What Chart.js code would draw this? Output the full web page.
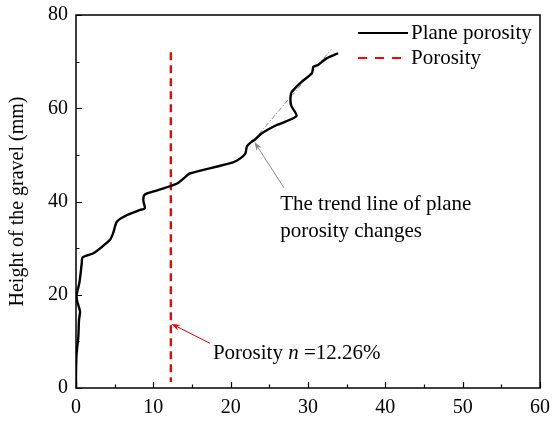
<!DOCTYPE html>
<html>
<head>
<meta charset="utf-8">
<script src="https://cdn.jsdelivr.net/npm/chart.js@4/dist/chart.umd.min.js"></script>
<style>
  html, body { margin: 0; padding: 0; background: #fff; }
  #wrap { width: 552px; height: 425px; }
</style>
</head>
<body>
<div id="wrap"><canvas id="chart" width="552" height="425"></canvas></div>
<script>
// ====== Данные ======
// плоская пористость (%) по высоте гравия (мм)
const planeX = [0, 0, 0.08, 0.3, 0.39, 0.52, 0.17, 0.08, 0.43, 0.6, 0.74, 0.86, 2.24, 3.3, 4.4, 4.8, 5.3, 6.6, 8.3, 8.9, 8.7, 8.9, 10.5, 13.0, 14.3, 14.7, 20.3, 21.2, 21.9, 22.1, 22.7, 23.15, 24.0, 25.95, 28.5, 27.8, 27.8, 28.1, 29.2, 30.5, 30.7, 31.3, 32.4, 33.9];
const planeY = [0, 3.2, 7.4, 11.0, 14.6, 16.4, 18.5, 19.9, 22.5, 24.6, 26.7, 28.0, 28.9, 30.2, 31.8, 33.2, 35.7, 37.1, 38.2, 38.5, 40.3, 41.5, 42.4, 43.8, 45.5, 46.0, 48.4, 49.2, 50.3, 51.8, 52.8, 53.3, 54.6, 56.4, 58.3, 60.7, 63.2, 63.9, 65.7, 67.5, 68.9, 69.3, 70.7, 71.8];

// средняя пористость n = 12.26%
const porosityX = [12.26, 12.26];
const porosityY = [72.0, 1.3];

// линия тренда
const trendX = [22.8, 33.0];
const trendY = [52.8, 72.6];

const xTicks = [0, 10, 20, 30, 40, 50, 60];
const yTicks = [0, 20, 40, 60, 80];

// стрелки и подписи (в координатах данных)
const grayArrowX = [26.9, 23.06];
const grayArrowY = [42.9, 52.8];
const redArrowX = [17.3, 12.3];
const redArrowY = [9.6, 13.8];
const trendLabelPos = [26.4, 39.3];
const porosityLabelPos = [17.7, 7.5];

const FONT = '"Liberation Serif", "Times New Roman", serif';

const toPts = (xs, ys) => xs.map((x, i) => ({ x, y: ys[i] }));

// ====== Рамка, внутренние тики, стрелки, подписи, легенда ======
function arrow(ctx, x1, y1, x2, y2, color){
  ctx.save();
  ctx.strokeStyle = color; ctx.fillStyle = color; ctx.lineWidth = 1;
  const a = Math.atan2(y2 - y1, x2 - x1);
  const hl = 9, hw = 3;
  ctx.beginPath(); ctx.moveTo(x1, y1);
  ctx.lineTo(x2 - Math.cos(a) * hl * 0.7, y2 - Math.sin(a) * hl * 0.7); ctx.stroke();
  ctx.beginPath();
  ctx.moveTo(x2, y2);
  ctx.lineTo(x2 - Math.cos(a) * hl - Math.sin(a) * hw, y2 - Math.sin(a) * hl + Math.cos(a) * hw);
  ctx.lineTo(x2 - Math.cos(a) * hl * 0.7, y2 - Math.sin(a) * hl * 0.7);
  ctx.lineTo(x2 - Math.cos(a) * hl + Math.sin(a) * hw, y2 - Math.sin(a) * hl - Math.cos(a) * hw);
  ctx.closePath(); ctx.fill();
  ctx.restore();
}

const decor = {
  id: 'decor',
  afterDatasetsDraw(chart){
    const { ctx, chartArea: ca, scales: { x, y } } = chart;
    ctx.save();
    // рамка
    ctx.strokeStyle = '#000'; ctx.lineWidth = 1.5;
    ctx.strokeRect(ca.left, ca.top, ca.right - ca.left, ca.bottom - ca.top);
    // тики внутрь
    ctx.lineWidth = 1.2;
    ctx.beginPath();
    for (let v = 0; v <= 60; v += 5){
      const px = Math.round(x.getPixelForValue(v)) + 0.5;
      const len = v % 10 === 0 ? 6 : 3.5;
      ctx.moveTo(px, ca.bottom); ctx.lineTo(px, ca.bottom - len);
    }
    for (let v = 0; v <= 80; v += 10){
      const py = Math.round(y.getPixelForValue(v)) + 0.5;
      const len = v % 20 === 0 ? 6 : 3.5;
      ctx.moveTo(ca.left, py); ctx.lineTo(ca.left + len, py);
    }
    ctx.stroke();

    // стрелки
    arrow(ctx, x.getPixelForValue(grayArrowX[0]), y.getPixelForValue(grayArrowY[0]),
               x.getPixelForValue(grayArrowX[1]), y.getPixelForValue(grayArrowY[1]), '#8a8a8a');
    arrow(ctx, x.getPixelForValue(redArrowX[0]), y.getPixelForValue(redArrowY[0]),
               x.getPixelForValue(redArrowX[1]), y.getPixelForValue(redArrowY[1]), '#ff0000');

    // подписи
    ctx.fillStyle = '#000'; ctx.textBaseline = 'middle'; ctx.textAlign = 'left';
    ctx.font = `21px ${FONT}`;
    let tx = x.getPixelForValue(trendLabelPos[0]), ty = y.getPixelForValue(trendLabelPos[1]);
    ctx.fillText('The trend line of plane', tx, ty);
    ctx.fillText('porosity changes', tx, ty + 27);

    tx = x.getPixelForValue(porosityLabelPos[0]); ty = y.getPixelForValue(porosityLabelPos[1]);
    const p1 = 'Porosity ';
    ctx.fillText(p1, tx, ty); tx += ctx.measureText(p1).width;
    ctx.font = `italic 21px ${FONT}`;
    ctx.fillText('n', tx, ty); tx += ctx.measureText('n').width;
    ctx.font = `21px ${FONT}`;
    ctx.fillText(' =12.26%', tx, ty);

    // легенда
    const lx = ca.right - 182, ly1 = ca.top + 18, ly2 = ca.top + 43;
    ctx.lineWidth = 1.8; ctx.strokeStyle = '#000';
    ctx.beginPath(); ctx.moveTo(lx, ly1); ctx.lineTo(lx + 50, ly1); ctx.stroke();
    ctx.lineWidth = 2; ctx.strokeStyle = '#ff0000'; ctx.setLineDash([9, 8]);
    ctx.beginPath(); ctx.moveTo(lx, ly2); ctx.lineTo(lx + 50, ly2); ctx.stroke();
    ctx.setLineDash([]);
    ctx.fillText('Plane porosity', lx + 53, ly1);
    ctx.fillText('Porosity', lx + 53, ly2);
    ctx.restore();
  }
};

new Chart(document.getElementById('chart'), {
  type: 'scatter',
  data: {
    datasets: [
      { label: 'Plane porosity', data: toPts(planeX, planeY), showLine: true,
        borderColor: '#000', borderWidth: 2.4, pointRadius: 0, tension: 0.25, order: 1 },
      { label: 'Porosity', data: toPts(porosityX, porosityY), showLine: true,
        borderColor: '#ff0000', borderWidth: 2.4, borderDash: [8, 5], pointRadius: 0, order: 2 },
      { label: 'trend', data: toPts(trendX, trendY), showLine: true,
        borderColor: '#8a8a8a', borderWidth: 1, borderDash: [5, 2, 1, 2], pointRadius: 0, order: 3 }
    ]
  },
  options: {
    responsive: false,
    animation: false,
    devicePixelRatio: 1,
    layout: { padding: { top: 15, right: 12, left: 0, bottom: 0 } },
    plugins: { legend: { display: false }, tooltip: { enabled: false } },
    scales: {
      x: {
        type: 'linear', min: 0, max: 60,
        afterBuildTicks: s => { s.ticks = xTicks.map(v => ({ value: v })); },
        afterFit: s => { s.height = 37; s.paddingLeft = 0; s.paddingRight = 0; },
        grid: { display: false, drawTicks: false },
        border: { display: false },
        ticks: { color: '#000', padding: 8, font: { family: FONT, size: 20 } }
      },
      y: {
        type: 'linear', min: 0, max: 80,
        afterBuildTicks: s => { s.ticks = yTicks.map(v => ({ value: v })); },
        afterFit: s => { s.width = 76; s.paddingTop = 0; s.paddingBottom = 0; },
        grid: { display: false, drawTicks: false },
        border: { display: false },
        title: { display: true, text: 'Height of the gravel (mm)', color: '#000',
                 font: { family: FONT, size: 20 }, padding: { top: 6, bottom: 0 } },
        ticks: { color: '#000', padding: 8, font: { family: FONT, size: 20 } }
      }
    }
  },
  plugins: [decor]
});
</script>
</body>
</html>
